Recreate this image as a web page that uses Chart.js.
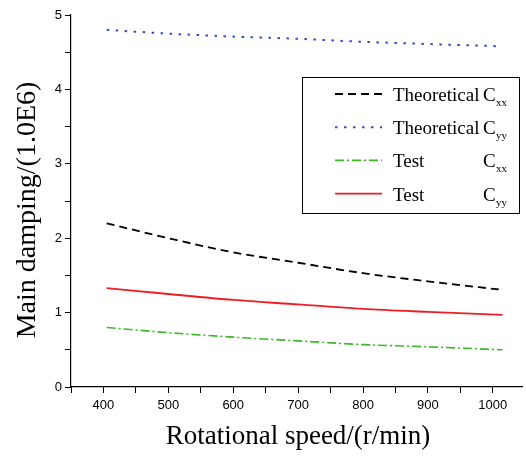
<!DOCTYPE html>
<html>
<head>
<meta charset="utf-8">
<script src="https://cdn.jsdelivr.net/npm/chart.js@4"></script>
<style>
  html, body { margin: 0; padding: 0; background: #fff; }
  #wrap { width: 526px; height: 456px; position: relative; }
</style>
</head>
<body>
<div id="wrap"><canvas id="c"></canvas></div>
<script>
// speeds in r/min, damping in units of 1.0E6
const speeds = [405, 500, 600, 700, 800, 900, 1010];
const speedsTest = [405, 500, 600, 700, 800, 900, 1015];
const theoCxx = [2.20, 2.00, 1.81, 1.67, 1.53, 1.42, 1.31];
const theoCyy = [4.80, 4.75, 4.71, 4.68, 4.64, 4.61, 4.58];
const testCxx = [0.80, 0.73, 0.67, 0.62, 0.57, 0.54, 0.50];
const testCyy = [1.33, 1.25, 1.17, 1.11, 1.05, 1.01, 0.97];

const legendItems = [
  { name: "Theoretical", sub: "xx" },
  { name: "Theoretical", sub: "yy" },
  { name: "Test", sub: "xx" },
  { name: "Test", sub: "yy" },
];

const pts = (xs, ys) => xs.map((x, i) => ({ x, y: ys[i] }));

function series(data, color, dash, width) {
  return {
    data, borderColor: color, borderDash: dash, borderWidth: width,
    pointRadius: 0, tension: 0.4, fill: false, cubicInterpolationMode: "monotone",
  };
}

// legend with subscripts, drawn by hand
const boxLegend = {
  id: "boxLegend",
  afterDraw(chart) {
    const ctx = chart.ctx;
    const x0 = 302, y0 = 77, w = 217, h = 136;
    ctx.save();
    ctx.strokeStyle = "#000";
    ctx.lineWidth = 1;
    ctx.strokeRect(x0 + 0.5, y0 + 0.5, w, h);
    chart.data.datasets.forEach((ds, i) => {
      const cy = 94 + i * 33.2;
      ctx.strokeStyle = ds.borderColor;
      ctx.lineWidth = ds.borderWidth;
      ctx.setLineDash(ds.borderDash || []);
      ctx.beginPath();
      ctx.moveTo(335, cy);
      ctx.lineTo(382, cy);
      ctx.stroke();
      ctx.setLineDash([]);
      ctx.fillStyle = "#000";
      ctx.textBaseline = "alphabetic";
      ctx.font = "19px 'Liberation Serif'";
      ctx.fillText(legendItems[i].name, 393, cy + 7);
      ctx.fillText("C", 483, cy + 7);
      ctx.font = "11px 'Liberation Serif'";
      ctx.fillText(legendItems[i].sub, 496, cy + 12);
    });
    ctx.restore();
  },
};

// axis titles
const axisTitles = {
  id: "axisTitles",
  afterDraw(chart) {
    const ctx = chart.ctx;
    ctx.save();
    ctx.fillStyle = "#000";
    ctx.textAlign = "center";
    ctx.textBaseline = "middle";
    ctx.font = "27px 'Liberation Serif'";
    ctx.fillText("Rotational speed/(r/min)", 298, 437);
    ctx.font = "28px 'Liberation Serif'";
    ctx.translate(28, 210);
    ctx.rotate(-Math.PI / 2);
    ctx.fillText("Main damping/(1.0E6)", 0, 0);
    ctx.restore();
  },
};

const tickFont = { family: "'Liberation Sans'", size: 13 };

new Chart(document.getElementById("c"), {
  type: "line",
  data: {
    datasets: [
      series(pts(speeds, theoCxx), "#000000", [8, 5], 1.8),
      series(pts(speeds, theoCyy), "#2f4fc0", [2.5, 6.5], 2),
      series(pts(speedsTest, testCxx), "#3cb828", [9, 3, 2, 3], 1.6),
      series(pts(speedsTest, testCyy), "#ee1c25", [], 1.8),
    ],
  },
  options: {
    responsive: true,
    maintainAspectRatio: false,
    animation: false,
    layout: { padding: { top: 15, right: 4, left: 0, bottom: 0 } },
    plugins: { legend: { display: false }, tooltip: { enabled: false } },
    scales: {
      x: {
        type: "linear", min: 350, max: 1045,
        afterFit: (s) => { s.height = 69; },
        afterBuildTicks: (s) => {
          const t = [];
          for (let v = 350; v <= 1000; v += 50) t.push({ value: v });
          s.ticks = t;
        },
        ticks: {
          font: tickFont, color: "#000", padding: 5, maxRotation: 0, autoSkip: false,
          callback: (v) => (v % 100 === 0 && v >= 400 ? String(v) : ""),
        },
        grid: { drawOnChartArea: false, tickLength: 6, color: "#000" },
        border: { color: "#000", width: 1.2 },
      },
      y: {
        min: 0, max: 5,
        afterFit: (s) => { s.width = 71; },
        ticks: {
          stepSize: 0.5, font: tickFont, color: "#000", padding: 3,
          callback: (v) => (Number.isInteger(v) ? String(v) : ""),
        },
        grid: { drawOnChartArea: false, tickLength: 6, color: "#000" },
        border: { color: "#000", width: 1.2 },
      },
    },
  },
  plugins: [boxLegend, axisTitles],
});
</script>
</body>
</html>
